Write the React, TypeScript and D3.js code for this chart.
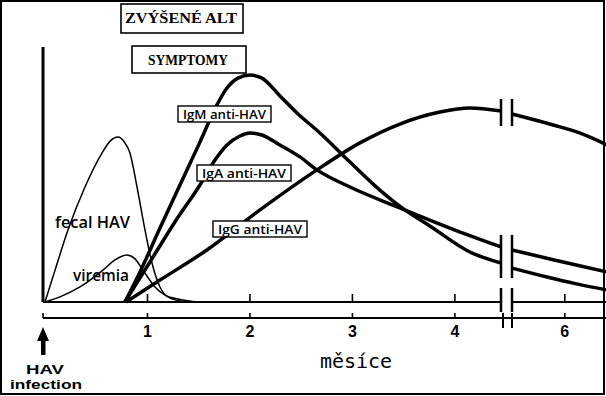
import React from "react";
import * as d3 from "d3";

// months after infection / relative level (0-100)
const upperTicks = [1, 2, 3, 4, 6];
const lowerTicks = [0, 1, 2, 3, 4, 6];
const tickLabels = ["1", "2", "3", "4", "6"];

const fecalMonths = [0, 0.098, 0.224, 0.39, 0.556, 0.64, 0.712, 0.77, 0.829, 0.898, 0.976, 1.044, 1.122, 1.2, 1.37];
const fecalLevels = [0, 12.5, 28.2, 45.1, 58.4, 63.3, 64.7, 63.0, 58.4, 45.1, 28.2, 15.3, 5.9, 2, 0];

const viremiaMonths = [0, 0.146, 0.341, 0.566, 0.683, 0.8, 0.878, 0.956, 1.073, 1.171, 1.298, 1.483];
const viremiaLevels = [0, 2, 5.9, 12.5, 16.5, 18.4, 16.9, 12.5, 5.9, 2.7, 1.2, 0];

const igmMonths = [0.78, 0.927, 1.122, 1.317, 1.512, 1.678, 1.776, 1.883, 2.0, 2.117, 2.293, 2.459, 2.683, 2.976, 3.268, 3.512, 3.756, 4.146, 4.45, 5.5, 5.85, 6.1, 6.4];
const igmLevels = [0, 11.8, 29.0, 45.9, 62.7, 77.3, 83.9, 87.8, 89.0, 87.8, 80.8, 74.1, 66.3, 54.9, 43.9, 36.1, 29.8, 19.6, 15.3, 13.3, 9.6, 7.2, 4.7];

const igaMonths = [0.78, 1.024, 1.268, 1.512, 1.659, 1.776, 1.902, 2.0, 2.117, 2.293, 2.488, 2.654, 2.976, 3.463, 3.951, 4.45, 5.5, 5.9, 6.15, 6.4];
const igaLevels = [0, 15.7, 31.4, 45.9, 55.7, 61.6, 65.1, 66.3, 65.5, 61.6, 56.9, 51.8, 45.1, 36.9, 29.0, 21.6, 20.4, 16.5, 14.1, 11.8];

const iggMonths = [0.79, 1.122, 1.58, 2.098, 2.654, 3.073, 3.463, 3.854, 4.146, 4.45, 5.5, 5.89, 6.14, 6.4];
const iggLevels = [0, 8.6, 20.4, 36.1, 51.8, 62.4, 69.8, 74.5, 76.1, 74.9, 73.7, 69.4, 66.3, 61.6];

const gapStart = 4.45;
const gapEnd = 5.5;

type Pt = [number, number];

export default function App() {
  const width = 606;
  const height = 396;
  const x = d3.scaleLinear().domain([0, gapStart, gapEnd, 6.4]).range([45, 501, 512, 607]);
  const y = d3.scaleLinear().domain([0, 100]).range([302, 47]);
  const line = d3
    .line<Pt>()
    .x((d) => x(d[0]))
    .y((d) => y(d[1]))
    .curve(d3.curveMonotoneX);

  const pts = (ms: number[], vs: number[]): Pt[] => ms.map((m, i) => [m, vs[i]]);
  const split = (p: Pt[]) => [p.filter((d) => d[0] <= gapStart), p.filter((d) => d[0] >= gapEnd)];

  const thin = [pts(fecalMonths, fecalLevels), pts(viremiaMonths, viremiaLevels)];
  const igm = split(pts(igmMonths, igmLevels));
  const iga = split(pts(igaMonths, igaLevels));
  const igg = split(pts(iggMonths, iggLevels));

  const xa = x(gapStart);
  const xb = x(gapEnd);
  const iggTop = y(Math.max(igg[0][igg[0].length - 1][1], igg[1][0][1])) - 12;
  const iggBot = y(Math.min(igg[0][igg[0].length - 1][1], igg[1][0][1])) + 12;
  const lowTop = y(iga[0][iga[0].length - 1][1]) - 12;
  const lowBot = y(igm[1][0][1]) + 10;

  const sans = "'Open Sans', 'Liberation Sans', sans-serif";
  const bold = "'Liberation Sans', Arial, sans-serif";
  const serif = "'Liberation Serif', 'DejaVu Serif', serif";

  const labelBox = (t: string, bx: number, by: number, bw: number) => (
    <g key={t}>
      <rect x={bx} y={by} width={bw} height={16} fill="white" stroke="black" strokeWidth={1.4} />
      <text x={bx + bw / 2} y={by + 12.5} textAnchor="middle" fontFamily={sans} fontWeight={600} fontSize={12.5}
        textLength={bw - 10} lengthAdjust="spacingAndGlyphs">{t}</text>
    </g>
  );

  return (
    <svg width={width} height={height} style={{ position: "absolute", left: 0, top: 0, background: "white" }}>
      <rect x={1} y={1} width={603} height={393} fill="white" stroke="black" strokeWidth={2} />

      {/* top period boxes */}
      <rect x={121} y={4} width={122} height={29} fill="none" stroke="black" strokeWidth={1.6} />
      <text x={181} y={23} textAnchor="middle" fontFamily={serif} fontWeight="bold" fontSize={15}
        textLength={112} lengthAdjust="spacingAndGlyphs">ZVÝŠENÉ ALT</text>
      <rect x={132} y={46} width={114} height={27} fill="none" stroke="black" strokeWidth={1.6} />
      <text x={188} y={65} textAnchor="middle" fontFamily={serif} fontWeight="bold" fontSize={15}
        textLength={80} lengthAdjust="spacingAndGlyphs">SYMPTOMY</text>

      {/* y axis */}
      <line x1={43} x2={43} y1={47} y2={y(0)} stroke="black" strokeWidth={3} />

      {/* upper axis with break */}
      <line x1={43} x2={xa} y1={y(0)} y2={y(0)} stroke="black" strokeWidth={1.8} />
      <line x1={xb} x2={606} y1={y(0)} y2={y(0)} stroke="black" strokeWidth={1.8} />
      {upperTicks.map((t) => (
        <line key={"u" + t} x1={x(t)} x2={x(t)} y1={y(0) - 8} y2={y(0)} stroke="black" strokeWidth={1.6} />
      ))}

      {/* lower axis */}
      <line x1={43} x2={606} y1={318} y2={318} stroke="black" strokeWidth={1.8} />
      {lowerTicks.map((t) => (
        <line key={"l" + t} x1={t === 0 ? 43 : x(t)} x2={t === 0 ? 43 : x(t)} y1={313} y2={318} stroke="black" strokeWidth={1.6} />
      ))}
      {upperTicks.map((t, i) => (
        <text key={"t" + t} x={x(t)} y={337} textAnchor="middle" fontFamily={bold} fontWeight="bold" fontSize={16}>
          {tickLabels[i]}
        </text>
      ))}
      <line x1={xa + 2} x2={xa + 2} y1={313} y2={328} stroke="black" strokeWidth={2} />
      <line x1={xb} x2={xb} y1={313} y2={328} stroke="black" strokeWidth={2} />

      {/* thin curves */}
      {thin.map((p, i) => (
        <path key={"th" + i} d={line(p) ?? ""} fill="none" stroke="black" strokeWidth={1.5} />
      ))}

      {/* antibody curves */}
      {[igm, iga, igg].map((s, i) =>
        s.map((p, j) => <path key={"ab" + i + j} d={line(p) ?? ""} fill="none" stroke="black" strokeWidth={3.5} />)
      )}

      {/* break bars */}
      {[xa, xb].map((bx) => (
        <g key={"b" + bx}>
          <line x1={bx} x2={bx} y1={iggTop} y2={iggBot} stroke="black" strokeWidth={2.5} />
          <line x1={bx} x2={bx} y1={lowTop} y2={lowBot} stroke="black" strokeWidth={2.5} />
          <line x1={bx} x2={bx} y1={y(0) - 14} y2={y(0) + 10} stroke="black" strokeWidth={2.5} />
        </g>
      ))}

      {/* labels */}
      <text x={55} y={228} fontFamily={sans} fontWeight={600} fontSize={16} textLength={75} lengthAdjust="spacingAndGlyphs">fecal HAV</text>
      <text x={73} y={281} fontFamily={sans} fontWeight={600} fontSize={16} textLength={56} lengthAdjust="spacingAndGlyphs">viremia</text>
      {labelBox("IgM anti-HAV", 178, 106, 93)}
      {labelBox("IgA anti-HAV", 197, 165, 94)}
      {labelBox("IgG anti-HAV", 213, 221, 94)}

      {/* infection arrow */}
      <polygon points="43,327 37,341 49,341" fill="black" />
      <rect x={41} y={340} width={4.5} height={15} fill="black" />
      <text x={45} y={374} textAnchor="middle" fontFamily={bold} fontWeight="bold" fontSize={13}
        textLength={38} lengthAdjust="spacingAndGlyphs">HAV</text>
      <text x={46} y={389} textAnchor="middle" fontFamily={bold} fontWeight="bold" fontSize={13}
        textLength={72} lengthAdjust="spacingAndGlyphs">infection</text>

      <text x={356} y={368} textAnchor="middle" fontFamily="'DejaVu Sans Mono', monospace" fontSize={20}>měsíce</text>
    </svg>
  );
}
